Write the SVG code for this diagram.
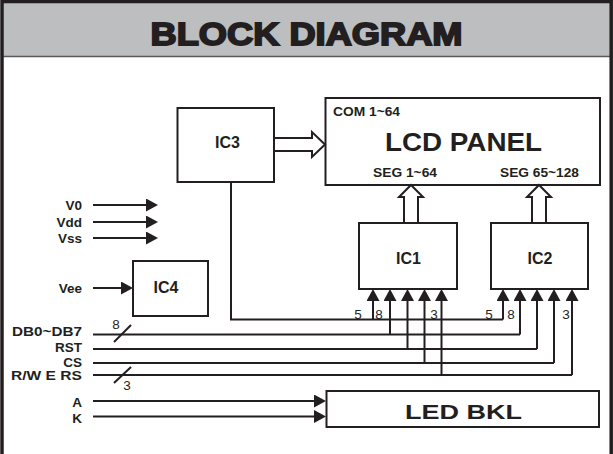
<svg xmlns="http://www.w3.org/2000/svg" width="613" height="454" viewBox="0 0 613 454">
<style>
.box{fill:#fff;stroke:#231f20;stroke-width:2}
.ln{fill:none;stroke:#231f20;stroke-width:2}
.lbl{font-family:"Liberation Sans",Arial,sans-serif;font-weight:bold;fill:#231f20}
.num{font-family:"Liberation Sans",Arial,sans-serif;font-size:13.5px;fill:#231f20}
.arr{marker-end:url(#ah)}
</style>
<defs>
<marker id="ah" markerUnits="userSpaceOnUse" markerWidth="13" markerHeight="13" refX="6" refY="6.5" orient="auto" viewBox="0 0 13 13">
<path d="M0,0 L12,6.5 L0,13 z" fill="#231f20"/>
</marker>
</defs>
<rect x="0" y="0" width="613" height="454" fill="#fff"/>
<g id="header">
<rect x="3" y="2" width="607" height="54" fill="#bcbec0"/>
<line x1="3" y1="56.5" x2="610" y2="56.5" stroke="#58595b" stroke-width="1.5"/>
<text x="306.5" y="45" text-anchor="middle" class="lbl" font-family="'DejaVu Sans',sans-serif" font-size="31" textLength="312" lengthAdjust="spacingAndGlyphs" stroke="#231f20" stroke-width="1.8">BLOCK DIAGRAM</text>
</g>
<path d="M2,454 V1.5 H611.2 V454" fill="none" stroke="#231f20" stroke-width="3.5"/>

<g id="ic3">
<rect class="box" x="177.5" y="108" width="96.5" height="74"/>
<text class="lbl" x="227.5" y="148" font-size="16" text-anchor="middle">IC3</text>
</g>
<g id="lcd">
<rect class="box" x="325.5" y="98" width="274.5" height="87"/>
<text class="lbl" x="333" y="116" font-size="12" textLength="67" lengthAdjust="spacingAndGlyphs">COM 1~64</text>
<text class="lbl" x="385" y="151" font-size="25" textLength="157" lengthAdjust="spacingAndGlyphs">LCD PANEL</text>
<text class="lbl" x="373" y="177" font-size="13.5" textLength="64" lengthAdjust="spacingAndGlyphs">SEG 1~64</text>
<text class="lbl" x="500" y="177" font-size="13.5" textLength="79" lengthAdjust="spacingAndGlyphs">SEG 65~128</text>
</g>
<g id="ic1">
<rect class="box" x="359" y="223" width="98" height="66"/>
<text class="lbl" x="408.5" y="264" font-size="16" text-anchor="middle">IC1</text>
</g>
<g id="ic2">
<rect class="box" x="491" y="223" width="97" height="66"/>
<text class="lbl" x="540" y="264" font-size="16" text-anchor="middle">IC2</text>
</g>
<g id="ic4">
<rect class="box" x="133" y="261" width="75" height="55"/>
<text class="lbl" x="166" y="293" font-size="16" text-anchor="middle">IC4</text>
</g>
<g id="led">
<rect class="box" x="326.5" y="391" width="272.5" height="36"/>
<text class="lbl" x="405" y="419" font-size="19.5" textLength="117" lengthAdjust="spacingAndGlyphs">LED BKL</text>
</g>

<g id="signals">
<g class="lbl" font-size="13.5" text-anchor="end">
<text x="82" y="209.5">V0</text>
<text x="82" y="226.5">Vdd</text>
<text x="82" y="242.5">Vss</text>
<text x="82" y="292.5">Vee</text>
<text x="82" y="335.5" textLength="70" lengthAdjust="spacingAndGlyphs">DB0~DB7</text>
<text x="82" y="351.5">RST</text>
<text x="82" y="366.5">CS</text>
<text x="82" y="380" font-size="13" textLength="71" lengthAdjust="spacingAndGlyphs">R/W E RS</text>
<text x="82" y="406.5">A</text>
<text x="82" y="422.5">K</text>
</g>
</g>

<g id="connectors">
<path class="ln" d="M274,138 H312 V132 L325,144.5 L312,157 V151 H274"/>
<path class="ln" d="M404,223 V197 H399 L411,185 L423,197 H418 V223"/>
<path class="ln" d="M532,223 V197 H527 L539,185 L551,197 H546 V223"/>
<line class="ln arr" x1="93" y1="205" x2="152" y2="205"/>
<line class="ln arr" x1="93" y1="222" x2="152" y2="222"/>
<line class="ln arr" x1="93" y1="238" x2="152" y2="238"/>
<line class="ln arr" x1="93" y1="288" x2="127" y2="288"/>
<line class="ln arr" x1="93" y1="401" x2="320" y2="401"/>
<line class="ln arr" x1="93" y1="416.5" x2="320" y2="416.5"/>
<path class="ln" d="M231,182 V319.5 H503"/>
<path class="ln" d="M93,334.5 H520"/>
<path class="ln" d="M93,349 H537"/>
<path class="ln" d="M93,363 H554"/>
<path class="ln" d="M93,375 H572"/>
<line class="ln arr" x1="373" y1="319.5" x2="373" y2="295"/>
<line class="ln arr" x1="390" y1="334.5" x2="390" y2="295"/>
<line class="ln arr" x1="407.5" y1="349" x2="407.5" y2="295"/>
<line class="ln arr" x1="424.5" y1="363" x2="424.5" y2="295"/>
<line class="ln arr" x1="441.5" y1="375" x2="441.5" y2="295"/>
<line class="ln arr" x1="503" y1="319.5" x2="503" y2="295"/>
<line class="ln arr" x1="520" y1="334.5" x2="520" y2="295"/>
<line class="ln arr" x1="537" y1="349" x2="537" y2="295"/>
<line class="ln arr" x1="554" y1="363" x2="554" y2="295"/>
<line class="ln arr" x1="572" y1="375" x2="572" y2="295"/>
<line class="ln" x1="114" y1="342" x2="131" y2="325"/>
<line class="ln" x1="114" y1="383" x2="131" y2="367"/>
<text class="num" x="116" y="328.5" text-anchor="middle" font-size="12.5">8</text>
<text class="num" x="127" y="389.5" text-anchor="middle" font-size="12.5">3</text>
<text class="num" x="358" y="319" text-anchor="middle">5</text>
<text class="num" x="379" y="319" text-anchor="middle">8</text>
<text class="num" x="434" y="319" text-anchor="middle">3</text>
<text class="num" x="489" y="319" text-anchor="middle">5</text>
<text class="num" x="511" y="319" text-anchor="middle">8</text>
<text class="num" x="566" y="319" text-anchor="middle">3</text>
</g>
</svg>
